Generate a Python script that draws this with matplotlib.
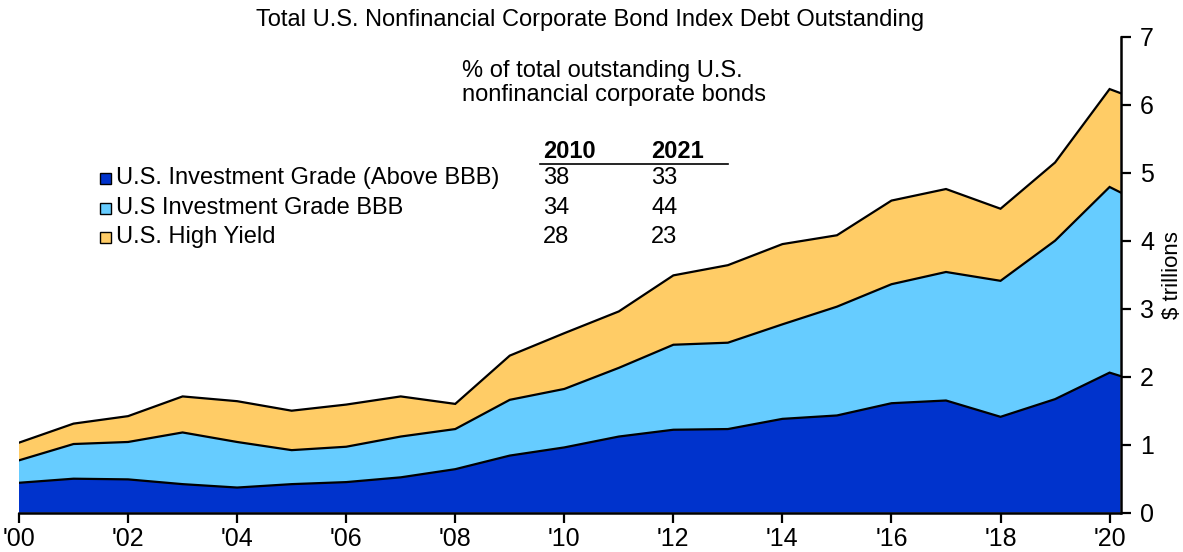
import matplotlib
matplotlib.use("Agg")
import matplotlib.pyplot as plt
from matplotlib.patches import Rectangle
from matplotlib.lines import Line2D
import numpy as np

plt.rcParams['font.family'] = ['Liberation Sans', 'DejaVu Sans']

# ---- data ($ trillions) ----
years = [2000, 2001, 2002, 2003, 2004, 2005, 2006, 2007, 2008, 2009, 2010,
         2011, 2012, 2013, 2014, 2015, 2016, 2017, 2018, 2019, 2020, 2020.2]
ig_above_bbb = [0.44, 0.50, 0.49, 0.42, 0.37, 0.42, 0.45, 0.52, 0.64, 0.84, 0.96,
                1.12, 1.22, 1.23, 1.38, 1.43, 1.61, 1.65, 1.41, 1.67, 2.06, 2.01]
ig_bbb = [0.33, 0.51, 0.55, 0.76, 0.67, 0.50, 0.52, 0.60, 0.59, 0.82, 0.86,
          1.01, 1.25, 1.27, 1.39, 1.60, 1.75, 1.89, 2.00, 2.33, 2.73, 2.70]
high_yield = [0.26, 0.30, 0.38, 0.53, 0.60, 0.58, 0.62, 0.59, 0.37, 0.65, 0.82,
              0.83, 1.02, 1.14, 1.18, 1.05, 1.23, 1.22, 1.06, 1.15, 1.44, 1.46]

series_labels = ["U.S. Investment Grade (Above BBB)",
                 "U.S Investment Grade BBB",
                 "U.S. High Yield"]
colors = ["#0033CC", "#66CCFF", "#FFCC66"]
pct_2010 = [38, 34, 28]
pct_2021 = [33, 44, 23]
table_years = ["2010", "2021"]

x_ticks = list(range(2000, 2021, 2))
x_ticklabels = ["'%02d" % (y % 100) for y in x_ticks]
y_ticks = list(range(0, 8))

W, H = 1183, 552
fig = plt.figure(figsize=(W / 100, H / 100), dpi=100)
ax = fig.add_axes([19 / W, 1 - 512.7 / H, (1120.5 - 19) / W, (512.7 - 36.7) / H])

yrs = np.array(years)
layers = [np.array(ig_above_bbb), np.array(ig_bbb), np.array(high_yield)]
base = np.zeros_like(yrs, dtype=float)
for vals, c in zip(layers, colors):
    top = base + vals
    ax.fill_between(yrs, base, top, facecolor=c, edgecolor='none', linewidth=0)
    ax.plot(yrs, top, color='black', lw=1.6, solid_joinstyle='miter', zorder=3)
    base = top

ax.set_xlim(2000, 2020.2)
ax.set_ylim(0, 7)
for s in ['top', 'left']:
    ax.spines[s].set_visible(False)
for s in ['bottom', 'right']:
    ax.spines[s].set_linewidth(1.8)
    ax.spines[s].set_zorder(5)
ax.yaxis.tick_right()
ax.set_yticks(y_ticks)
ax.set_xticks(x_ticks)
ax.set_xticklabels(x_ticklabels)
ax.tick_params(axis='both', direction='out', length=7, width=1.6, labelsize=18, pad=3)
ax.tick_params(axis='y', pad=7)

def fx(px):
    return px / W

def fy(py):
    return 1 - py / H

FS = 17
fig.text(fx(1172), fy(275), "$ trillions", rotation=90, ha='center', va='center', fontsize=16)
fig.text(fx(590), fy(20), "Total U.S. Nonfinancial Corporate Bond Index Debt Outstanding",
         ha='center', va='center', fontsize=FS)
fig.text(fx(462), fy(83), "% of total outstanding U.S.\nnonfinancial corporate bonds",
         ha='left', va='center', fontsize=FS, linespacing=1.12)

# table header
fig.text(fx(543), fy(152), table_years[0], ha='left', va='center', fontsize=FS, fontweight='bold')
fig.text(fx(651), fy(152), table_years[1], ha='left', va='center', fontsize=FS, fontweight='bold')
fig.add_artist(Line2D([fx(540), fx(728)], [fy(163.5), fy(163.5)], color='black', lw=1.2))

row_y = [178, 208, 237]
for ry, lab, c, a, b in zip(row_y, series_labels, colors, pct_2010, pct_2021):
    fig.add_artist(Rectangle((fx(100), fy(ry + 5.5)), 11 / W, 11 / H, facecolor=c,
                             edgecolor='black', lw=1.0, transform=fig.transFigure))
    fig.text(fx(116), fy(ry), lab, ha='left', va='center', fontsize=FS)
    fig.text(fx(543), fy(ry), str(a), ha='left', va='center', fontsize=FS)
    fig.text(fx(651), fy(ry), str(b), ha='left', va='center', fontsize=FS)

fig.savefig("out.png", dpi=100)
